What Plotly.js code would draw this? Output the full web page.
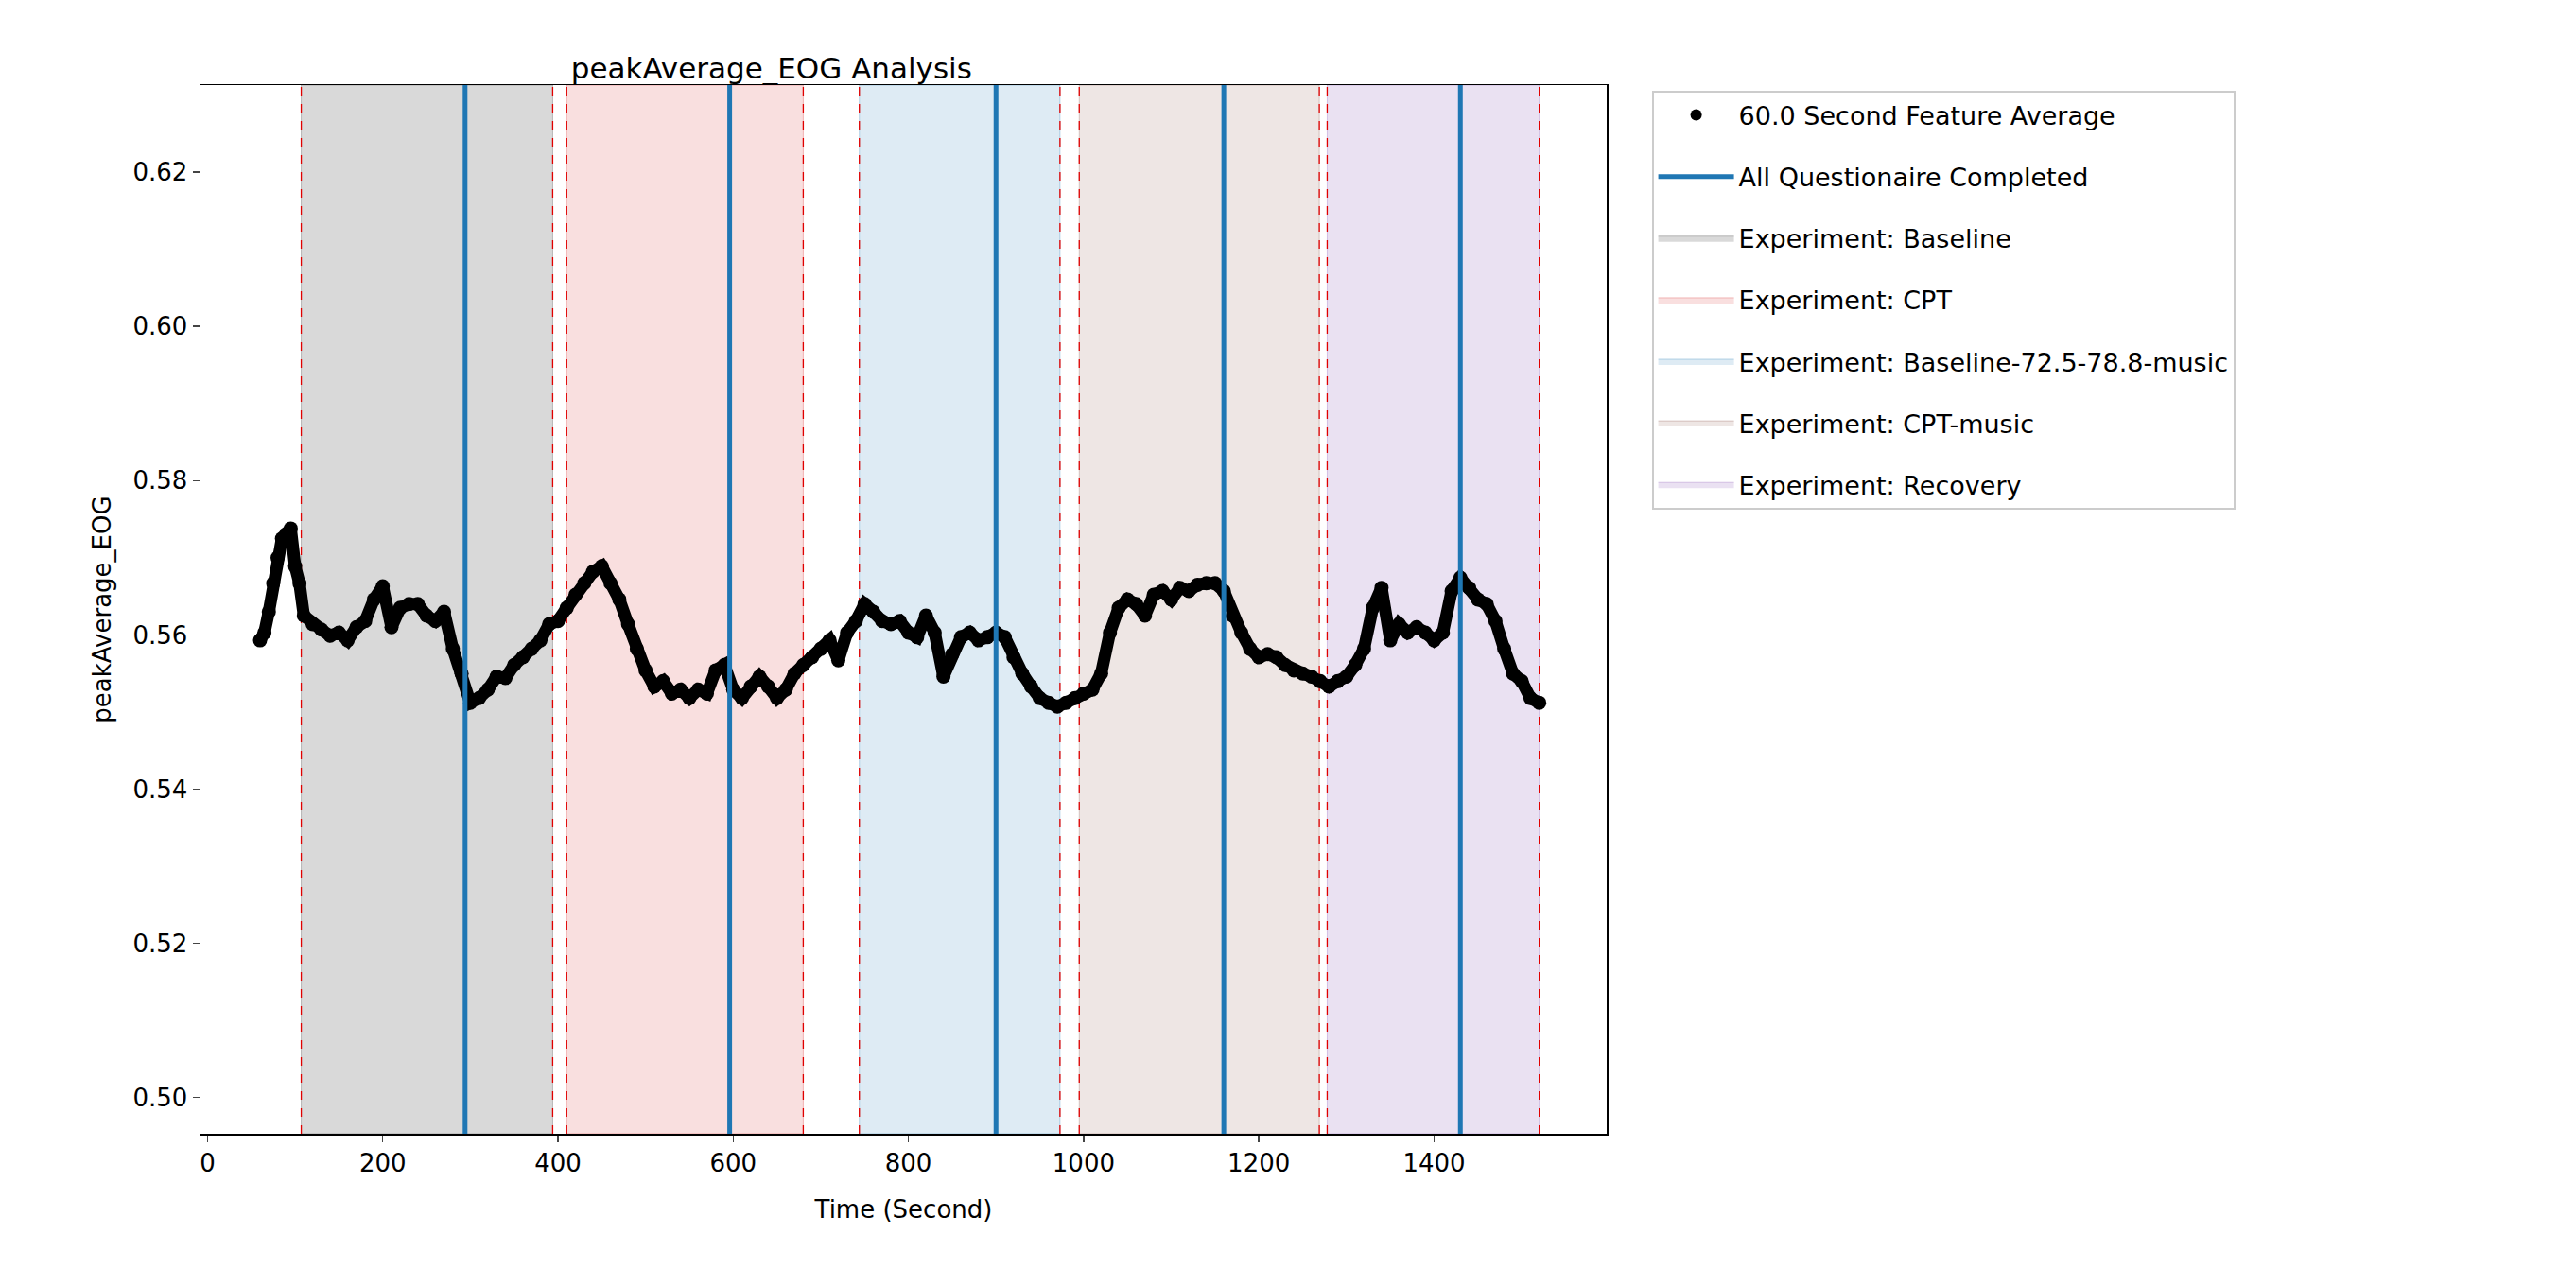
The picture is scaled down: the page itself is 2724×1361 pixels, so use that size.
<!DOCTYPE html>
<html><head><meta charset="utf-8">
<script src="https://cdn.plot.ly/plotly-3.0.1.min.js"></script>
<style>body{margin:0;background:#fff}</style></head>
<body><div id="chart" style="width:2724px;height:1361px"></div>
<script>
const times = [60,65,70,75,80,85,90,95,100,105,110,120,130,140,150,160,170,180,190,200,210,220,230,240,250,260,270,280,290,300,310,320,330,340,350,360,370,380,390,400,410,420,430,440,450,460,470,480,490,500,510,520,530,540,550,560,570,580,590,600,610,620,630,640,650,660,670,680,690,700,710,720,730,740,750,760,770,780,790,800,810,820,830,840,850,860,870,880,890,900,910,920,930,940,950,960,970,980,990,1000,1010,1020,1030,1040,1050,1060,1070,1080,1090,1100,1110,1120,1130,1140,1150,1160,1170,1180,1190,1200,1210,1220,1230,1240,1250,1260,1270,1280,1290,1300,1310,1320,1330,1340,1350,1360,1370,1380,1390,1400,1410,1420,1430,1440,1450,1460,1470,1480,1490,1500,1510,1520];
const values = [0.5593,0.5603,0.5630,0.5667,0.5700,0.5725,0.5731,0.5738,0.5689,0.5667,0.5625,0.5614,0.5607,0.5599,0.5603,0.5593,0.5610,0.5618,0.5646,0.5663,0.5610,0.5635,0.5640,0.5640,0.5625,0.5618,0.5630,0.5582,0.5550,0.5512,0.5518,0.5529,0.5546,0.5544,0.5561,0.5571,0.5582,0.5593,0.5614,0.5618,0.5635,0.5652,0.5667,0.5682,0.5689,0.5667,0.5646,0.5614,0.5582,0.5554,0.5533,0.5540,0.5524,0.5529,0.5518,0.5529,0.5524,0.5554,0.5561,0.5529,0.5518,0.5533,0.5546,0.5533,0.5518,0.5529,0.5550,0.5561,0.5571,0.5582,0.5593,0.5567,0.5603,0.5618,0.5640,0.5630,0.5618,0.5614,0.5618,0.5603,0.5597,0.5625,0.5603,0.5546,0.5575,0.5597,0.5603,0.5593,0.5597,0.5603,0.5597,0.5571,0.5550,0.5533,0.5518,0.5512,0.5507,0.5512,0.5518,0.5524,0.5529,0.5550,0.5603,0.5635,0.5646,0.5640,0.5625,0.5652,0.5657,0.5646,0.5661,0.5657,0.5665,0.5667,0.5667,0.5657,0.5625,0.5603,0.5582,0.5571,0.5575,0.5571,0.5561,0.5554,0.5550,0.5546,0.5540,0.5533,0.5540,0.5546,0.5561,0.5582,0.5635,0.5661,0.5593,0.5614,0.5603,0.5610,0.5603,0.5593,0.5603,0.5657,0.5674,0.5661,0.5646,0.5640,0.5618,0.5582,0.5550,0.5540,0.5518,0.5512];
const questionnaireTimes = [294,596,900,1160,1430];
const phaseNames = ["Experiment: Baseline","Experiment: CPT","Experiment: Baseline-72.5-78.8-music","Experiment: CPT-music","Experiment: Recovery"];
const phaseStart = [107,410,744,995,1278];
const phaseEnd = [394,680,973,1269,1520];
const phaseColors = ["rgba(128,128,128,0.3)","rgba(214,39,40,0.15)","rgba(31,119,180,0.15)","rgba(140,86,75,0.15)","rgba(148,103,189,0.2)"];
const phaseEdge = ["rgba(128,128,128,0.5)","rgba(214,39,40,0.3)","rgba(31,119,180,0.3)","rgba(140,86,75,0.3)","rgba(148,103,189,0.35)"];
const yRange = [0.4953,0.6313];
const xRange = [-8,1597];

const traces = [];
phaseNames.forEach((n,i)=>{
  traces.push({x:[phaseStart[i],phaseEnd[i],phaseEnd[i],phaseStart[i],phaseStart[i]],
    y:[yRange[0],yRange[0],yRange[1],yRange[1],yRange[0]],
    type:'scatter',mode:'lines',fill:'toself',fillcolor:phaseColors[i],
    line:{width:1,color:phaseEdge[i]},name:n,hoverinfo:'skip',legendrank:3+i,legendgroup:'p'+i});
});
const ex=[],ey=[];
phaseStart.concat(phaseEnd).forEach(t=>{ex.push(t,t,null);ey.push(yRange[0],yRange[1],null);});
traces.push({x:ex,y:ey,type:'scatter',mode:'lines',line:{color:'#e00000',width:1.3,dash:'dash'},showlegend:false,hoverinfo:'skip'});
traces.push({x:times,y:values,type:'scatter',mode:'lines+markers',line:{color:'black',width:13},
  marker:{color:'black',size:15},showlegend:false});
traces.push({x:[null],y:[null],type:'scatter',mode:'markers',marker:{color:'black',size:12},
  name:'60.0 Second Feature Average',legendrank:1,legendgroup:'a'});
const qx=[],qy=[];
questionnaireTimes.forEach(t=>{qx.push(t,t,null);qy.push(yRange[0],yRange[1],null);});
traces.push({x:qx,y:qy,type:'scatter',mode:'lines',line:{color:'#1f77b4',width:5},name:'All Questionaire Completed',legendrank:2,legendgroup:'b'});

const ax={showgrid:false,zeroline:false,showline:true,linecolor:'black',linewidth:1.5,mirror:true,
  ticks:'outside',ticklen:7,tickwidth:1.5,tickfont:{size:26,color:'black'}};
Plotly.newPlot('chart',traces,{
  width:2724,height:1361,paper_bgcolor:'white',plot_bgcolor:'white',
  font:{family:'DejaVu Sans',color:'black'},
  margin:{l:212,r:1025,t:90,b:162},
  title:{text:'peakAverage_EOG Analysis',font:{size:31},x:0.2995,xanchor:'center',y:0.955},
  xaxis:Object.assign({},ax,{range:xRange,dtick:200,title:{text:'Time (Second)',font:{size:26}}}),
  yaxis:Object.assign({},ax,{range:yRange,dtick:0.02,tickformat:'.2f',title:{text:'peakAverage_EOG',font:{size:26},standoff:15}}),
  legend:{x:1.032,y:0.995,xanchor:'left',yanchor:'top',bordercolor:'#cccccc',borderwidth:2,
    font:{size:27},tracegroupgap:27,itemwidth:80,traceorder:'grouped'},
  showlegend:true
},{staticPlot:true});
</script></body></html>
